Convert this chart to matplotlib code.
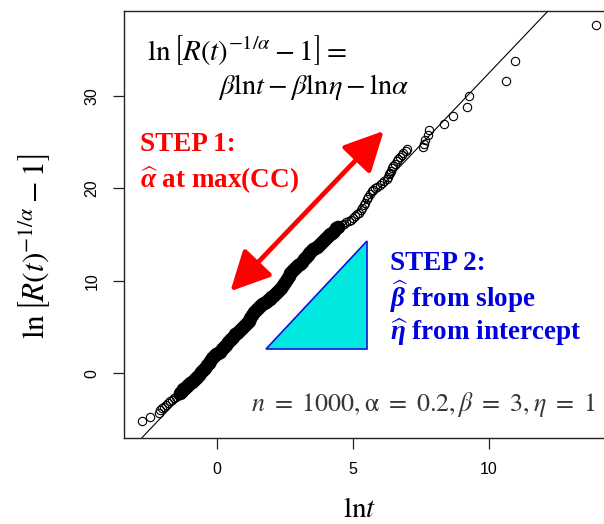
import numpy as np
import matplotlib
matplotlib.use('Agg')
import matplotlib.pyplot as plt
from matplotlib.patches import Polygon, FancyArrowPatch

plt.rcParams['mathtext.fontset'] = 'custom'
plt.rcParams['mathtext.rm'] = 'Liberation Serif:bold'
plt.rcParams['mathtext.it'] = 'Liberation Serif:italic:bold'
plt.rcParams['mathtext.bf'] = 'Liberation Serif:italic:bold'

# ln t  vs  ln[R(t)^(-1/alpha) - 1]
lnt = [-2.75, -2.46, -2.15, -2.08, -2.02, -1.95, -1.88, -1.80, -1.73, -1.66,
       -1.58, -1.50, -1.42, -1.36, -1.30, -1.24, -1.18, -1.12, -1.05, -0.99,
       -0.93, -0.86, -0.79, -0.72, -0.65, -0.58, -0.51, -0.45, -0.38, -0.31,
       -0.24, -0.17, -0.10, -0.03, 0.04, 0.11, 0.18, 0.25, 0.32, 0.39,
       0.46, 0.53, 0.60, 0.67, 0.74, 0.81, 0.88, 0.95, 1.02, 1.09,
       1.16, 1.23, 1.30, 1.37, 1.44, 1.51, 1.58, 1.65, 1.72, 1.79,
       1.86, 1.93, 2.00, 2.07, 2.14, 2.21, 2.28, 2.35, 2.42, 2.49,
       2.56, 2.63, 2.70, 2.77, 2.84, 2.91, 2.98, 3.05, 3.12, 3.19,
       3.26, 3.33, 3.40, 3.47, 3.54, 3.61, 3.68, 3.75, 3.82, 3.89,
       3.96, 4.03, 4.10, 4.17, 4.24, 4.31, 4.38, 4.45, 4.52, 4.60,
       4.68, 4.76, 4.84, 4.92, 5.00, 5.07, 5.14, 5.21, 5.28, 5.34,
       5.40, 5.45, 5.50, 5.56, 5.62, 5.68, 5.75, 5.82, 5.90, 5.98,
       6.06, 6.15, 6.24, 6.29, 6.33, 6.37, 6.40, 6.44, 6.48, 6.55,
       6.61, 6.67, 6.73, 6.79, 6.85, 6.93, 7.00, 7.56, 7.60, 7.65,
       7.77, 7.81, 8.35, 8.69, 9.20, 9.25, 10.63, 10.94, 13.93]
lny = [-5.20, -4.75, -4.25, -4.00, -3.75, -3.60, -3.45, -3.20, -3.00, -2.85,
       -2.70, -2.55, -2.35, -2.16, -1.95, -1.75, -1.60, -1.42, -1.25, -1.08,
       -0.92, -0.74, -0.55, -0.37, -0.15, 0.08, 0.35, 0.60, 0.85, 1.10,
       1.35, 1.60, 1.85, 2.05, 2.20, 2.34, 2.60, 2.85, 3.10, 3.35,
       3.55, 3.75, 3.96, 4.20, 4.35, 4.55, 4.75, 4.95, 5.20, 5.41,
       5.70, 6.00, 6.30, 6.60, 6.85, 7.10, 7.30, 7.45, 7.60, 7.75,
       7.90, 8.05, 8.20, 8.35, 8.55, 8.75, 8.95, 9.20, 9.50, 9.85,
       10.20, 10.50, 10.80, 11.10, 11.30, 11.50, 11.70, 11.85, 12.05, 12.30,
       12.55, 12.80, 13.05, 13.25, 13.40, 13.55, 13.70, 13.85, 14.10, 14.35,
       14.55, 14.75, 14.95, 15.10, 15.20, 15.40, 15.65, 15.80, 15.90, 16.00,
       16.10, 16.30, 16.45, 16.60, 16.80, 17.00, 17.20, 17.35, 17.60, 17.85,
       18.15, 18.45, 18.80, 19.10, 19.40, 19.65, 19.85, 20.00, 20.15, 20.35,
       20.60, 20.80, 21.00, 21.25, 21.50, 21.70, 21.90, 22.15, 22.40, 22.65,
       22.90, 23.15, 23.40, 23.60, 23.80, 24.00, 24.20, 24.50, 24.80, 25.25,
       25.80, 26.35, 26.90, 27.80, 28.80, 30.00, 31.60, 33.80, 37.60]

# fitted line
b0, b1 = 1.56, 3.09

# helper shapes
tri_x = [1.80, 5.52, 5.52]
tri_y = [2.6, 2.6, 14.3]
arrow_from = (0.49, 8.86)
arrow_to = (6.13, 26.2)

xticks = [0, 5, 10]
yticks = [0, 10, 20, 30]

x = np.array(lnt)
y = np.array(lny)
dense = (x > -1.4) & (x < 4.5)   # where most points pile up into a solid band

fig = plt.figure(figsize=(6.04, 5.24), dpi=100)
ax = fig.add_axes([0.2053, 0.1647, 0.8146, 0.8149])

ax.plot(x[~dense], y[~dense], 'o', mfc='none', mec='black', ms=6.0, mew=0.8)
ax.plot(x[dense], y[dense], 'o', mfc='none', mec='black', ms=7.2, mew=2.6)
ax.axline((0, b0), slope=b1, color='black', lw=0.8)

ax.add_patch(Polygon(np.column_stack([tri_x, tri_y]), closed=True,
                     facecolor='#00e8e0', edgecolor='#1010e0', lw=1.2, zorder=3))
ax.add_patch(FancyArrowPatch(arrow_from, arrow_to, arrowstyle='<|-|>,head_length=11,head_width=5.5',
                             color='#ff0000', lw=3.4, mutation_scale=2.2, zorder=4,
                             shrinkA=0, shrinkB=0))

ax.set_xlim(-3.42, 14.67)
ax.set_ylim(-6.97, 39.2)
ax.set_xticks(xticks)
ax.set_yticks(yticks)
for s in ax.spines.values():
    s.set_linewidth(1.0)
    s.set_color('#222222')
ax.tick_params(length=7.7, width=0.9, pad=10, labelsize=11.5, colors='#222222',
               labelcolor='black')
for lab in ax.get_xticklabels() + ax.get_yticklabels():
    lab.set_fontfamily('Liberation Sans')
for lab in ax.get_yticklabels():
    lab.set_rotation(90)
    lab.set_va('center')

# equation and notes
ax.text(-2.57, 35.0, r'$\ln\left[R(t)^{-1/\alpha}-1\right]=$', fontsize=21,
        math_fontfamily='stix', va='center', ha='left')
ax.text(0.04, 30.9, r'$\beta\mathrm{ln}t-\beta\mathrm{ln}\eta-\mathrm{ln}\alpha$', fontsize=20.5,
        math_fontfamily='stix', va='center', ha='left')

ax.text(-2.83, 24.7, 'STEP 1:', fontsize=19.5, color='#ff0000', fontweight='bold',
        family='Liberation Serif', va='center', ha='left')
ax.text(-2.83, 20.9, r'$\widehat{\alpha}$ at max(CC)', fontsize=19.5, color='#ff0000',
        fontweight='bold', family='Liberation Serif', va='center', ha='left')

ax.text(6.36, 11.9, 'STEP 2:', fontsize=19.5, color='#0000e0', fontweight='bold',
        family='Liberation Serif', va='center', ha='left')
ax.text(6.36, 8.27, r'$\widehat{\beta}$ from slope', fontsize=19.5, color='#0000e0',
        fontweight='bold', family='Liberation Serif', va='center', ha='left')
ax.text(6.36, 4.47, r'$\widehat{\eta}$ from intercept', fontsize=19.5, color='#0000e0',
        fontweight='bold', family='Liberation Serif', va='center', ha='left')

ax.text(13.9, -3.43, r'$n\ =\ 1000,\mathrm{\alpha}\ =\ 0.2,\beta\ =\ 3,\eta\ =\ 1$', fontsize=18.7,
        color='#3a3630', math_fontfamily='stix', va='center', ha='right')

fig.text(360 / 604, 1 - 509 / 524, r'$\mathrm{ln}t$', fontsize=21, math_fontfamily='stix',
         ha='center', va='center')
fig.text(35 / 604, 1 - 246 / 524, r'$\ln\left[R(t)^{-1/\alpha}-1\right]$', fontsize=22.5,
         math_fontfamily='stix', ha='center', va='center', rotation=90)

fig.savefig('out.png', dpi=100)
